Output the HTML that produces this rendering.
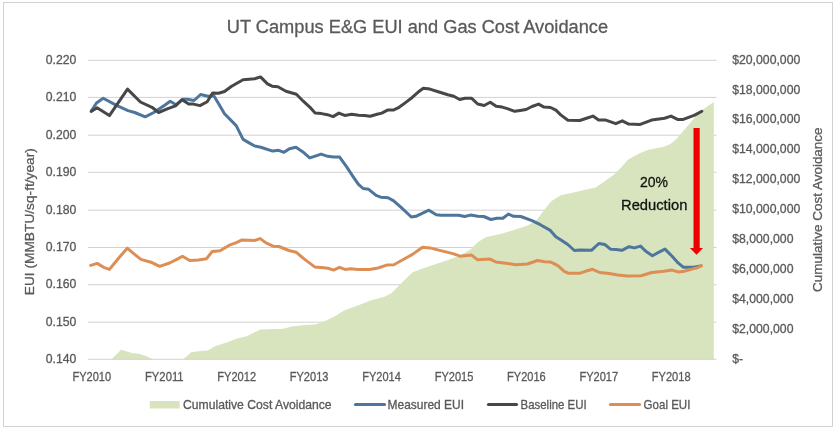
<!DOCTYPE html>
<html><head><meta charset="utf-8"><title>UT Campus E&amp;G EUI and Gas Cost Avoidance</title>
<style>
html,body{margin:0;padding:0;background:#fff;}
svg{display:block;will-change:transform;}
text{font-family:'Liberation Sans', Arial, sans-serif;paint-order:stroke;stroke:currentColor;stroke-width:0.3px;}
</style></head><body>
<svg width="837" height="432" viewBox="0 0 837 432">
<rect x="0" y="0" width="837" height="432" fill="#ffffff"/>
<rect x="3.5" y="2.5" width="829" height="424" fill="#ffffff" stroke="#d2d2d2" stroke-width="1"/>
<text x="417.4" y="33.2" font-size="19.2" text-anchor="middle" fill="#595959" color="#595959" textLength="381.3" lengthAdjust="spacingAndGlyphs">UT Campus E&amp;G EUI and Gas Cost Avoidance</text>
<g stroke="#d2d2d2" stroke-width="1">
<line x1="88" y1="60.3" x2="716.5" y2="60.3"/>
<line x1="88" y1="97.4" x2="716.5" y2="97.4"/>
<line x1="88" y1="135.2" x2="716.5" y2="135.2"/>
<line x1="88" y1="172.3" x2="716.5" y2="172.3"/>
<line x1="88" y1="210.2" x2="716.5" y2="210.2"/>
<line x1="88" y1="247.5" x2="716.5" y2="247.5"/>
<line x1="88" y1="284.7" x2="716.5" y2="284.7"/>
<line x1="88" y1="322.2" x2="716.5" y2="322.2"/>
</g>
<polygon points="88.0,359.3 111.7,359.3 121.0,349.8 131.0,352.7 139.6,354.1 145.3,355.8 152.5,359.3 183.3,359.3 191.2,352.3 202.7,350.8 207.9,350.5 214.4,346.6 225.8,342.8 237.3,338.5 247.4,335.9 260.3,329.4 283.2,328.7 291.9,326.5 304.8,325.1 315.0,324.6 325.4,321.0 335.8,315.8 344.5,310.2 358.4,305.3 370.6,300.5 384.5,296.7 391.4,293.2 401.8,282.8 412.3,272.4 419.2,269.8 430.0,265.9 446.7,260.4 459.6,255.7 470.7,249.3 478.1,241.9 485.6,237.2 500.4,234.1 511.5,230.7 526.3,226.1 535.6,221.5 541.1,214.1 546.7,206.7 551.6,201.0 560.8,195.2 574.7,192.2 586.3,189.4 595.6,187.6 604.9,181.3 614.1,174.4 621.1,167.5 627.8,159.8 640.3,152.9 648.6,149.7 663.9,146.7 670.4,144.1 675.9,139.4 681.5,133.0 688.9,124.6 696.3,115.4 703.7,108.9 713.8,102.0 713.8,359.3" fill="#d7e4bd"/>
<line x1="88" y1="359.3" x2="716.5" y2="359.3" stroke="#d2d2d2" stroke-width="1"/>
<g fill="none" stroke-width="3.0" stroke-linejoin="round" stroke-linecap="round">
<polyline points="91.5,110.5 96.5,103.0 103.2,98.2 116.5,105.4 128.0,110.6 134.7,112.5 145.2,116.8 153.8,112.5 165.0,104.9 170.2,101.3 176.1,104.7 182.7,99.3 187.5,99.3 194.0,100.5 200.6,94.5 207.8,96.3 213.8,95.7 218.5,103.5 224.5,113.7 236.2,125.6 243.1,139.4 250.0,143.4 254.8,146.0 260.8,147.2 272.7,151.1 278.7,150.3 284.0,152.3 289.4,148.7 296.0,147.2 302.6,151.7 309.7,157.9 314.5,156.3 321.1,154.1 327.7,156.3 333.6,157.1 339.6,157.1 346.5,166.7 353.9,177.8 358.5,184.3 363.1,188.5 368.7,189.3 376.1,195.4 380.7,197.2 388.1,197.8 393.7,200.9 401.1,207.4 411.3,217.0 415.9,216.3 428.9,210.2 436.3,214.8 440.8,215.3 458.7,215.3 464.6,216.5 470.6,215.1 477.8,216.3 483.8,216.5 490.9,219.5 496.9,218.3 502.9,218.3 508.3,214.1 513.6,216.3 520.8,216.5 532.0,220.6 540.3,224.7 549.9,230.1 555.8,236.7 560.6,239.7 567.8,244.5 574.4,250.5 579.7,249.9 591.7,250.2 598.9,243.5 604.8,244.5 610.8,249.3 616.0,249.4 621.9,250.3 629.1,246.7 634.5,247.9 640.5,246.1 645.8,251.3 652.4,255.7 659.0,252.1 665.0,249.1 672.1,256.3 678.1,262.9 683.5,267.3 693.6,267.3 700.8,265.9" stroke="#4e759c"/>
<polyline points="91.2,111.4 97.0,107.8 109.4,115.6 127.5,89.1 140.4,102.0 152.0,107.3 158.6,112.5 167.2,108.9 175.5,105.9 182.1,99.7 188.7,104.1 193.5,104.1 200.0,105.6 207.2,101.7 212.6,93.0 218.5,93.3 224.5,91.5 231.6,86.2 243.1,79.7 254.7,78.8 260.5,76.9 267.5,83.9 272.1,86.2 277.9,86.7 286.0,91.3 296.4,94.3 303.3,101.2 310.0,107.3 315.1,113.1 321.6,113.6 327.4,114.7 333.1,116.6 338.9,113.1 344.7,115.4 351.7,114.3 358.6,115.2 364.4,115.4 370.2,116.3 377.1,114.3 381.8,113.1 387.5,110.1 393.3,110.1 399.1,107.3 404.8,103.1 411.9,97.7 417.9,92.3 423.3,88.2 429.9,89.1 438.2,91.7 447.8,94.7 453.8,96.3 459.7,99.5 465.1,98.3 471.7,98.3 477.7,104.0 484.2,105.5 490.2,102.3 496.2,106.3 502.2,107.1 508.1,108.9 514.7,111.3 520.1,110.4 526.1,109.5 532.0,106.5 538.6,104.1 544.0,107.1 550.6,107.5 555.9,110.1 560.7,114.9 567.9,120.3 579.8,120.5 585.8,118.5 592.9,116.1 598.6,120.1 605.8,120.1 615.8,123.7 622.3,120.8 628.7,124.1 640.2,124.4 651.6,120.1 664.6,118.2 671.0,116.1 677.5,119.4 683.2,119.4 694.7,115.1 701.8,111.2" stroke="#474747"/>
<polyline points="90.7,265.4 97.2,263.4 103.6,267.3 109.4,269.4 119.4,257.2 127.3,248.2 133.7,253.6 140.9,259.4 151.0,262.2 159.6,266.3 169.6,263.0 176.8,259.4 182.5,256.2 189.7,260.5 198.3,260.1 206.5,258.7 212.2,251.5 220.1,250.8 230.1,244.8 235.8,242.9 241.6,240.1 254.5,240.5 260.2,238.6 266.0,242.9 273.1,246.2 278.9,246.5 288.9,250.5 296.1,252.2 304.7,259.4 314.7,266.9 323.6,267.7 327.9,268.3 333.6,270.1 339.4,267.3 345.1,269.4 350.8,268.7 358.0,269.4 369.5,269.4 378.1,268.0 386.7,265.1 393.9,264.8 401.0,260.8 412.5,254.4 422.5,247.2 430.0,247.9 438.6,250.1 452.9,253.6 460.1,256.2 471.6,255.1 477.3,259.7 490.2,259.1 496.0,262.0 507.4,263.4 516.0,264.8 527.5,264.0 537.5,260.5 544.7,261.7 550.8,262.1 557.9,265.7 563.9,271.1 568.7,273.3 579.4,273.3 585.4,271.3 592.6,269.3 599.7,272.5 609.3,273.5 617.7,274.9 627.2,276.1 641.1,275.7 651.8,272.5 663.8,271.3 672.1,270.1 678.1,271.9 684.1,271.3 693.6,268.6 697.5,267.8 701.5,265.6" stroke="#dc8e55"/>
</g>
<g>
<rect x="693.5" y="128" width="6.2" height="120" fill="#ee0000"/>
<polygon points="689.9,247.9 703,247.9 696.5,254.8" fill="#ee0000"/>
</g>
<text x="654" y="187" font-size="15" text-anchor="middle" fill="#111111" color="#111111" textLength="28" lengthAdjust="spacingAndGlyphs">20%</text>
<text x="654.2" y="209.6" font-size="15" text-anchor="middle" fill="#111111" color="#111111" textLength="66.3" lengthAdjust="spacingAndGlyphs">Reduction</text>
<text x="76.4" y="63.9" font-size="12.4" text-anchor="end" fill="#595959" color="#595959" textLength="30.6" lengthAdjust="spacingAndGlyphs">0.220</text>
<text x="76.4" y="101.0" font-size="12.4" text-anchor="end" fill="#595959" color="#595959" textLength="30.6" lengthAdjust="spacingAndGlyphs">0.210</text>
<text x="76.4" y="138.8" font-size="12.4" text-anchor="end" fill="#595959" color="#595959" textLength="30.6" lengthAdjust="spacingAndGlyphs">0.200</text>
<text x="76.4" y="175.9" font-size="12.4" text-anchor="end" fill="#595959" color="#595959" textLength="30.6" lengthAdjust="spacingAndGlyphs">0.190</text>
<text x="76.4" y="213.8" font-size="12.4" text-anchor="end" fill="#595959" color="#595959" textLength="30.6" lengthAdjust="spacingAndGlyphs">0.180</text>
<text x="76.4" y="251.1" font-size="12.4" text-anchor="end" fill="#595959" color="#595959" textLength="30.6" lengthAdjust="spacingAndGlyphs">0.170</text>
<text x="76.4" y="288.3" font-size="12.4" text-anchor="end" fill="#595959" color="#595959" textLength="30.6" lengthAdjust="spacingAndGlyphs">0.160</text>
<text x="76.4" y="325.8" font-size="12.4" text-anchor="end" fill="#595959" color="#595959" textLength="30.6" lengthAdjust="spacingAndGlyphs">0.150</text>
<text x="76.4" y="362.9" font-size="12.4" text-anchor="end" fill="#595959" color="#595959" textLength="30.6" lengthAdjust="spacingAndGlyphs">0.140</text>
<text x="732.2" y="63.6" font-size="12.4" text-anchor="start" fill="#595959" color="#595959" textLength="68.1" lengthAdjust="spacingAndGlyphs">$20,000,000</text>
<text x="732.2" y="93.5" font-size="12.4" text-anchor="start" fill="#595959" color="#595959" textLength="68.1" lengthAdjust="spacingAndGlyphs">$18,000,000</text>
<text x="732.2" y="123.4" font-size="12.4" text-anchor="start" fill="#595959" color="#595959" textLength="68.1" lengthAdjust="spacingAndGlyphs">$16,000,000</text>
<text x="732.2" y="153.3" font-size="12.4" text-anchor="start" fill="#595959" color="#595959" textLength="68.1" lengthAdjust="spacingAndGlyphs">$14,000,000</text>
<text x="732.2" y="183.2" font-size="12.4" text-anchor="start" fill="#595959" color="#595959" textLength="68.1" lengthAdjust="spacingAndGlyphs">$12,000,000</text>
<text x="732.2" y="213.1" font-size="12.4" text-anchor="start" fill="#595959" color="#595959" textLength="68.1" lengthAdjust="spacingAndGlyphs">$10,000,000</text>
<text x="732.2" y="243.0" font-size="12.4" text-anchor="start" fill="#595959" color="#595959" textLength="61.3" lengthAdjust="spacingAndGlyphs">$8,000,000</text>
<text x="732.2" y="272.9" font-size="12.4" text-anchor="start" fill="#595959" color="#595959" textLength="61.3" lengthAdjust="spacingAndGlyphs">$6,000,000</text>
<text x="732.2" y="302.8" font-size="12.4" text-anchor="start" fill="#595959" color="#595959" textLength="61.3" lengthAdjust="spacingAndGlyphs">$4,000,000</text>
<text x="732.2" y="332.7" font-size="12.4" text-anchor="start" fill="#595959" color="#595959" textLength="61.3" lengthAdjust="spacingAndGlyphs">$2,000,000</text>
<text x="732.2" y="362.6" font-size="12.4" text-anchor="start" fill="#595959" color="#595959" textLength="10.9" lengthAdjust="spacingAndGlyphs">$-</text>
<text x="91.8" y="380.8" font-size="12.4" text-anchor="middle" fill="#595959" color="#595959" textLength="38.7" lengthAdjust="spacingAndGlyphs">FY2010</text>
<text x="164.3" y="380.8" font-size="12.4" text-anchor="middle" fill="#595959" color="#595959" textLength="38.7" lengthAdjust="spacingAndGlyphs">FY2011</text>
<text x="236.7" y="380.8" font-size="12.4" text-anchor="middle" fill="#595959" color="#595959" textLength="38.7" lengthAdjust="spacingAndGlyphs">FY2012</text>
<text x="309.1" y="380.8" font-size="12.4" text-anchor="middle" fill="#595959" color="#595959" textLength="38.7" lengthAdjust="spacingAndGlyphs">FY2013</text>
<text x="381.5" y="380.8" font-size="12.4" text-anchor="middle" fill="#595959" color="#595959" textLength="38.7" lengthAdjust="spacingAndGlyphs">FY2014</text>
<text x="454.0" y="380.8" font-size="12.4" text-anchor="middle" fill="#595959" color="#595959" textLength="38.7" lengthAdjust="spacingAndGlyphs">FY2015</text>
<text x="526.4" y="380.8" font-size="12.4" text-anchor="middle" fill="#595959" color="#595959" textLength="38.7" lengthAdjust="spacingAndGlyphs">FY2016</text>
<text x="598.8" y="380.8" font-size="12.4" text-anchor="middle" fill="#595959" color="#595959" textLength="38.7" lengthAdjust="spacingAndGlyphs">FY2017</text>
<text x="671.2" y="380.8" font-size="12.4" text-anchor="middle" fill="#595959" color="#595959" textLength="38.7" lengthAdjust="spacingAndGlyphs">FY2018</text>
<text transform="translate(33.5,295.2) rotate(-90)" x="0" y="0" font-size="13.6" fill="#595959" color="#595959" textLength="147" lengthAdjust="spacingAndGlyphs">EUI (MMBTU/sq-ft/year)</text>
<text transform="translate(822,291.9) rotate(-90)" x="0" y="0" font-size="13.6" fill="#595959" color="#595959" textLength="164.5" lengthAdjust="spacingAndGlyphs">Cumulative Cost Avoidance</text>
<rect x="149.8" y="401" width="29.8" height="7.5" fill="#d7e4bd"/>
<text x="183" y="408.6" font-size="12.4" text-anchor="start" fill="#595959" color="#595959" textLength="148.6" lengthAdjust="spacingAndGlyphs">Cumulative Cost Avoidance</text>
<line x1="355.5" y1="404.5" x2="384.5" y2="404.5" stroke="#4e759c" stroke-width="3.2" stroke-linecap="round"/>
<text x="387.6" y="408.6" font-size="12.4" text-anchor="start" fill="#595959" color="#595959" textLength="76.4" lengthAdjust="spacingAndGlyphs">Measured EUI</text>
<line x1="488.5" y1="404.5" x2="516.5" y2="404.5" stroke="#474747" stroke-width="3.2" stroke-linecap="round"/>
<text x="520.5" y="408.6" font-size="12.4" text-anchor="start" fill="#595959" color="#595959" textLength="66.2" lengthAdjust="spacingAndGlyphs">Baseline EUI</text>
<line x1="610.5" y1="404.5" x2="639.5" y2="404.5" stroke="#dc8e55" stroke-width="3.2" stroke-linecap="round"/>
<text x="643.6" y="408.6" font-size="12.4" text-anchor="start" fill="#595959" color="#595959" textLength="46.8" lengthAdjust="spacingAndGlyphs">Goal EUI</text>
</svg>
</body></html>
